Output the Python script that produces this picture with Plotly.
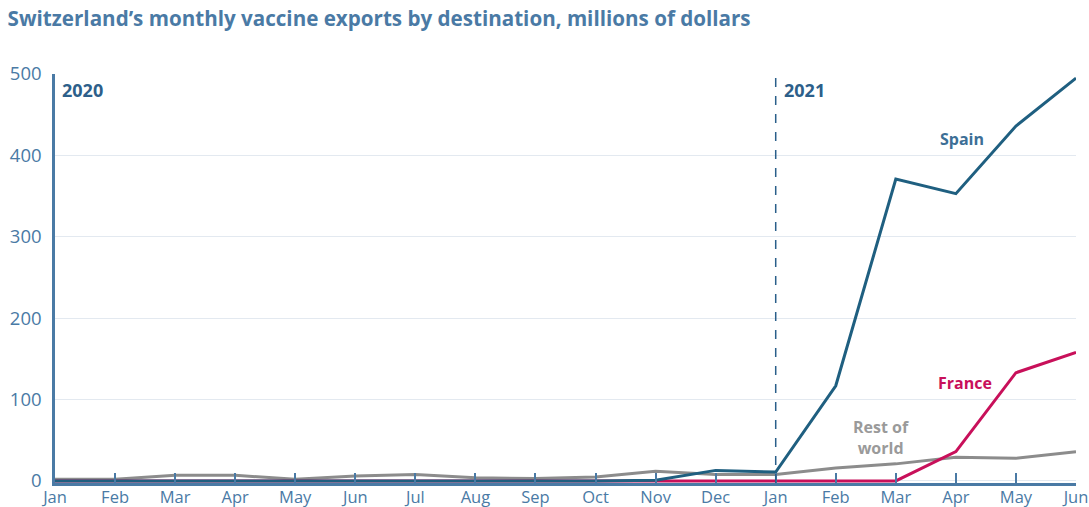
import plotly.graph_objects as go

months = ["Jan", "Feb", "Mar", "Apr", "May", "Jun", "Jul", "Aug", "Sep", "Oct", "Nov", "Dec",
          "Jan", "Feb", "Mar", "Apr", "May", "Jun"]
spain = [0, 0, 0, 0, 0, 0, 0, 0, 0, 0, 1, 13, 11, 117, 371, 353, 436, 495]
france = [0, 0, 0, 0, 0, 0, 0, 0, 0, 0, 0, 0, 0, 0, 0, 36, 133, 158]
rest_of_world = [2, 2, 7, 7, 2, 6, 8, 4, 3, 5, 12, 8, 8, 16, 21, 29, 28, 36]
y_ticks = [0, 100, 200, 300, 400, 500]

x = list(range(len(months)))
FONT = "Open Sans"
BLUE = "#4a7aa5"

fig = go.Figure()
fig.add_trace(go.Scatter(x=x, y=rest_of_world, mode="lines", line=dict(color="#8c8c8c", width=3), name="Rest of world"))
fig.add_trace(go.Scatter(x=x, y=france, mode="lines", line=dict(color="#c8105a", width=3), name="France"))
fig.add_trace(go.Scatter(x=x, y=spain, mode="lines", line=dict(color="#1f5f80", width=3), name="Spain"))

fig.add_shape(type="line", x0=12, x1=12, y0=0, y1=1, xref="x", yref="paper",
              line=dict(color="#2a5f8a", width=1.5, dash="dash"))

fig.add_annotation(x=0, y=500, xref="x", yref="y", text="<b>2020</b>", showarrow=False,
                   xanchor="left", yanchor="top", xshift=5, yshift=-2,
                   font=dict(family=FONT, size=18, color="#2d5f8a"))
fig.add_annotation(x=12, y=500, xref="x", yref="y", text="<b>2021</b>", showarrow=False,
                   xanchor="left", yanchor="top", xshift=6, yshift=-2,
                   font=dict(family=FONT, size=18, color="#2d5f8a"))
fig.add_annotation(x=15.1, y=420, xref="x", yref="y", text="<b>Spain</b>", showarrow=False,
                   font=dict(family=FONT, size=16, color="#3d6f96"))
fig.add_annotation(x=15.15, y=120, xref="x", yref="y", text="<b>France</b>", showarrow=False,
                   font=dict(family=FONT, size=16, color="#c8105a"))
fig.add_annotation(x=13.75, y=54, xref="x", yref="y", text="<b>Rest of<br>world</b>", showarrow=False,
                   font=dict(family=FONT, size=16, color="#9a9a9a"))

fig.update_layout(
    width=1089, height=507,
    margin=dict(l=55, r=13, t=74, b=24, autoexpand=False),
    paper_bgcolor="white", plot_bgcolor="white",
    showlegend=False,
    font=dict(family=FONT, color=BLUE),
    title=dict(text="<b>Switzerland\u2019s monthly vaccine exports by destination, millions of dollars</b>",
               x=0.007, xanchor="left", y=0.962, yanchor="middle",
               font=dict(family=FONT, size=20.6, color=BLUE)),
    xaxis=dict(range=[0, 17], tickvals=x, ticktext=months, showgrid=False, zeroline=False,
               automargin=False, ticklabelstandoff=-3,
               showline=True, linecolor=BLUE, linewidth=2.5, ticks="inside", ticklen=10,
               tickwidth=2, tickcolor=BLUE, tickfont=dict(family=FONT, size=16.5, color=BLUE)),
    yaxis=dict(range=[-2.5, 500], tickvals=y_ticks, showgrid=True, gridcolor="#e3e9f0",
               automargin=False, ticklabelstandoff=7,
               gridwidth=1, zeroline=False, showline=True, linecolor=BLUE, linewidth=2.5,
               ticks="", tickfont=dict(family=FONT, size=18.5, color=BLUE)),
)

fig.write_html("out.html", config={"displayModeBar": False},
               post_script="document.body.style.margin='0';document.body.style.overflow='hidden';")
